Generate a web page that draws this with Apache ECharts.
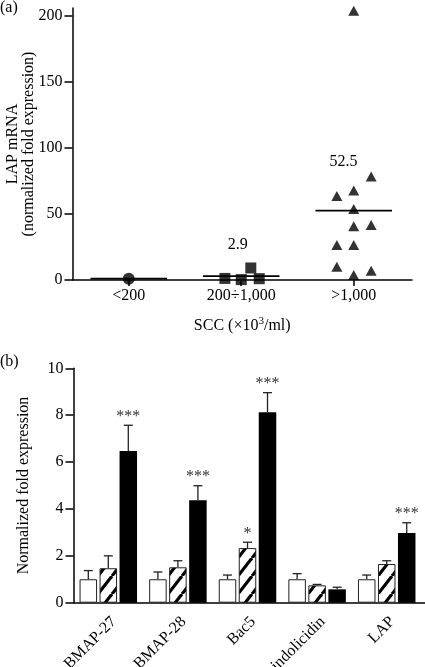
<!DOCTYPE html>
<html><head><meta charset="utf-8">
<script src="https://cdn.jsdelivr.net/npm/echarts@6/dist/echarts.min.js"></script>
<style>html,body{margin:0;padding:0;background:#fff}#c{width:425px;height:667px}</style>
</head><body><div id="c"></div>
<script>
const FONT = '"Liberation Serif", "Times New Roman", serif';

// ---------- Panel (a): LAP mRNA by SCC class ----------
const sccCategories = ['<200', '200÷1,000', '>1,000'];
const sccLowValues = [1.0];
const sccLowJitter = [0];
const sccMidValues = [1.2, 0.3, 9.1, 1.0];
const sccMidJitter = [-0.145, 0, 0.085, 0.16];
const sccHighValues = [204, 63.6, 67.7, 78.3, 53.8, 40.7, 41.7, 26.5, 26.5, 10.1, 7.1, 3.8];
const sccHighJitter = [0, -0.15, 0, 0.155, 0, 0, 0.155, -0.15, 0, -0.15, 0.155, 0];
const sccMeans = [1.0, 2.9, 52.5];
const sccMeanText = ['', '2.9', '52.5'];
const sccMeanTextY = [0, 27, 89.6];
const sccMeanTextDx = [0, -0.03, -0.09];
const aYTicks = [0, 50, 100, 150, 200];

// ---------- Panel (b): normalized fold expression ----------
const genes = ['BMAP-27', 'BMAP-28', 'Bac5', 'indolicidin', 'LAP'];
const lowSccVals = [1.0, 1.0, 1.0, 1.0, 1.0];
const lowSccErr = [0.37, 0.31, 0.18, 0.24, 0.18];
const midSccVals = [1.47, 1.51, 2.33, 0.74, 1.65];
const midSccErr = [0.53, 0.28, 0.25, 0.04, 0.14];
const highSccVals = [6.47, 4.37, 8.13, 0.57, 2.97];
const highSccErr = [1.10, 0.62, 0.83, 0.09, 0.44];
const lowSccStars = ['', '', '', '', ''];
const midSccStars = ['', '', '*', '', ''];
const highSccStars = ['***', '***', '***', '', '***'];

const pos = i => i + 0.5;
const BAR_W = 17.5, BAR_GAP = 2.5;

function hatchCanvas() {
  const w = 14, h = 18;
  const c = document.createElement('canvas');
  c.width = w; c.height = h;
  const g = c.getContext('2d');
  g.fillStyle = '#fff'; g.fillRect(0, 0, w, h);
  g.strokeStyle = '#000'; g.lineWidth = 3.2;
  for (const k of [-1, 0, 1]) {
    g.beginPath(); g.moveTo(k * w, h); g.lineTo(k * w + w, 0); g.stroke();
  }
  return c;
}

const chart = echarts.init(document.getElementById('c'), null, {renderer: 'canvas'});

function scatterData(vals, jit, ci) { return vals.map((v, i) => [pos(ci) + jit[i], v]); }

function errSeries(vals, errs, stars, offset) {
  return {
    type: 'custom', xAxisIndex: 1, yAxisIndex: 1, z: 5,
    data: vals.map((v, i) => [pos(i), v, errs[i]]),
    renderItem: function (params, api) {
      const x = api.value(0), v = api.value(1), e = api.value(2);
      const b = api.coord([x, v]);
      const t = api.coord([x, v + e]);
      const cx = b[0] + offset;
      const children = [
        {type: 'line', shape: {x1: cx, y1: b[1], x2: cx, y2: t[1]}, style: {stroke: '#222', lineWidth: 1.3}},
        {type: 'line', shape: {x1: cx - 4.5, y1: t[1], x2: cx + 4.5, y2: t[1]}, style: {stroke: '#222', lineWidth: 1.3}}
      ];
      const s = stars[params.dataIndex];
      if (s) children.push({type: 'text', style: {text: s, x: cx, y: t[1] - 8.5, align: 'center', verticalAlign: 'middle', fontSize: 16, fontFamily: FONT, fill: '#333'}});
      return {type: 'group', children};
    }
  };
}

const option = {
  animation: false,
  backgroundColor: '#fff',
  title: [
    {text: '(a)', left: 0, top: 0, padding: 0, textStyle: {fontFamily: FONT, fontSize: 16, fontWeight: 'normal', color: '#000'}},
    {text: '(b)', left: 0, top: 354, padding: 0, textStyle: {fontFamily: FONT, fontSize: 16, fontWeight: 'normal', color: '#000'}}
  ],
  grid: [
    {left: 72.5, top: 8, width: 339.5, height: 272, containLabel: false, outerBoundsMode: 'none'},
    {left: 73.5, top: 368.3, width: 351.5, height: 234.4, containLabel: false, outerBoundsMode: 'none'}
  ],
  xAxis: [
    {
      gridIndex: 0, type: 'value', min: 0, max: 3.018,
      splitLine: {show: false},
      axisLine: {lineStyle: {color: '#000', width: 1.5}},
      axisTick: {customValues: sccCategories.map((c, i) => pos(i)), length: 6, lineStyle: {color: '#000', width: 1.5}},
      axisLabel: {customValues: sccCategories.map((c, i) => pos(i)), formatter: v => sccCategories[Math.round(v - 0.5)],
        fontFamily: FONT, fontSize: 16, color: '#000', margin: 8},
      name: 'SCC (×10{sup|3}/ml)', nameLocation: 'middle', nameGap: 36, nameMoveOverlap: false,
      nameTextStyle: {fontFamily: FONT, fontSize: 16, color: '#000',
        rich: {sup: {fontFamily: FONT, fontSize: 11, verticalAlign: 'top', padding: [0, 0, 8, 0]}}}
    },
    {
      gridIndex: 1, type: 'value', min: 0, max: 5.05,
      splitLine: {show: false},
      axisLine: {lineStyle: {color: '#000', width: 1.5}},
      axisTick: {show: false},
      axisLabel: {customValues: genes.map((g, i) => pos(i)), formatter: v => genes[Math.round(v - 0.5)],
        rotate: 45, verticalAlign: 'top', fontFamily: FONT, fontSize: 16, color: '#000', margin: 11}
    }
  ],
  yAxis: [
    {
      gridIndex: 0, type: 'value', min: 0, max: 206,
      splitLine: {show: false},
      axisLine: {show: true, lineStyle: {color: '#000', width: 1.5}},
      axisTick: {show: true, customValues: aYTicks, length: 8, lineStyle: {color: '#000', width: 1.5}},
      axisLabel: {customValues: aYTicks, align: 'right', verticalAlign: 'middle', fontFamily: FONT, fontSize: 16, color: '#000', margin: 10},
      name: 'LAP mRNA\n(normalized fold expression)', nameLocation: 'middle', nameGap: 36, nameMoveOverlap: false,
      nameTextStyle: {fontFamily: FONT, fontSize: 16, color: '#000', lineHeight: 16}
    },
    {
      gridIndex: 1, type: 'value', min: 0, max: 10, interval: 2,
      splitLine: {show: false},
      axisLine: {show: true, lineStyle: {color: '#000', width: 1.5}},
      axisTick: {show: true, length: 8, lineStyle: {color: '#000', width: 1.5}},
      axisLabel: {align: 'right', verticalAlign: 'middle', fontFamily: FONT, fontSize: 16, color: '#000', margin: 10},
      name: 'Normalized fold expression', nameLocation: 'middle', nameGap: 42, nameMoveOverlap: false,
      nameTextStyle: {fontFamily: FONT, fontSize: 16, color: '#000', lineHeight: 16}
    }
  ],
  series: [
    {type: 'scatter', xAxisIndex: 0, yAxisIndex: 0, symbol: 'circle', symbolSize: 12,
      itemStyle: {color: '#000'}, data: scatterData(sccLowValues, sccLowJitter, 0)},
    {type: 'scatter', xAxisIndex: 0, yAxisIndex: 0, symbol: 'rect', symbolSize: 11,
      itemStyle: {color: '#000'}, data: scatterData(sccMidValues, sccMidJitter, 1)},
    {type: 'scatter', xAxisIndex: 0, yAxisIndex: 0, symbol: 'triangle', symbolSize: [11, 10],
      itemStyle: {color: '#000'}, data: scatterData(sccHighValues, sccHighJitter, 2)},
    {type: 'custom', xAxisIndex: 0, yAxisIndex: 0, z: 4,
      data: sccMeans.map((m, i) => [pos(i), m]),
      renderItem: function (params, api) {
        const i = params.dataIndex;
        const x = api.value(0), m = api.value(1);
        const a = api.coord([x - 0.34, m]), b = api.coord([x + 0.34, m]);
        const children = [{type: 'line', shape: {x1: a[0], y1: a[1], x2: b[0], y2: b[1]}, style: {stroke: '#000', lineWidth: 1.8}}];
        if (sccMeanText[i]) {
          const p = api.coord([x + sccMeanTextDx[i], sccMeanTextY[i]]);
          children.push({type: 'text', style: {text: sccMeanText[i], x: p[0], y: p[1], align: 'center', verticalAlign: 'middle', fontSize: 16, fontFamily: FONT, fill: '#000'}});
        }
        return {type: 'group', children};
      }
    },
    {type: 'bar', name: '<200', xAxisIndex: 1, yAxisIndex: 1, barWidth: BAR_W, barGap: (BAR_GAP / BAR_W * 100) + '%',
      itemStyle: {color: '#fff', borderColor: '#222', borderWidth: 1},
      data: lowSccVals.map((v, i) => [pos(i), v])},
    {type: 'bar', name: '200÷1,000', xAxisIndex: 1, yAxisIndex: 1, barWidth: BAR_W, barGap: (BAR_GAP / BAR_W * 100) + '%',
      itemStyle: {color: {image: hatchCanvas(), repeat: 'repeat'}, borderColor: '#222', borderWidth: 1},
      data: midSccVals.map((v, i) => [pos(i), v])},
    {type: 'bar', name: '>1,000', xAxisIndex: 1, yAxisIndex: 1, barWidth: BAR_W, barGap: (BAR_GAP / BAR_W * 100) + '%',
      itemStyle: {color: '#000'},
      data: highSccVals.map((v, i) => [pos(i), v])},
    errSeries(lowSccVals, lowSccErr, lowSccStars, -(BAR_W + BAR_GAP)),
    errSeries(midSccVals, midSccErr, midSccStars, 0),
    errSeries(highSccVals, highSccErr, highSccStars, BAR_W + BAR_GAP)
  ]
};
chart.setOption(option);
</script>
</body></html>
